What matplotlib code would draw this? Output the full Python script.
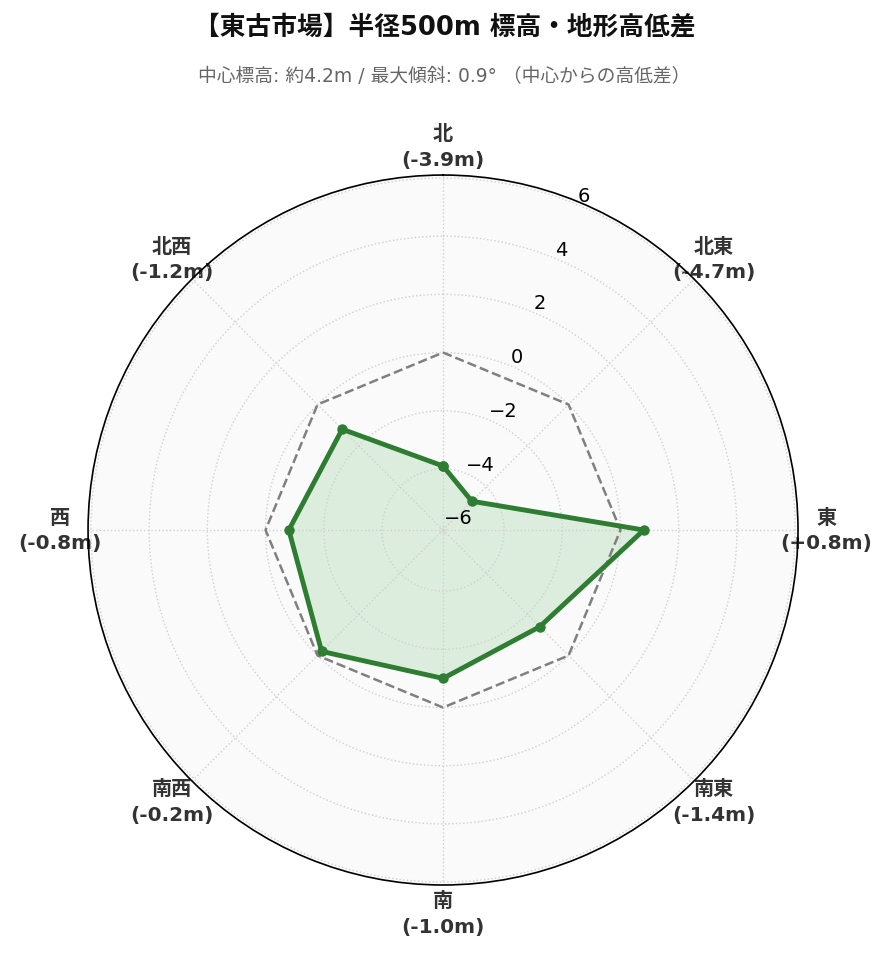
import numpy as np
import matplotlib
matplotlib.use("Agg")
import matplotlib.pyplot as plt

plt.rcParams['font.family'] = ['DejaVu Sans', 'Noto Sans CJK JP']

directions = ["北", "北東", "東", "南東", "南", "南西", "西", "北西"]
diffs = [-3.9, -4.7, 0.8, -1.4, -1.0, -0.2, -0.8, -1.2]
rticks = [-6, -4, -2, 0, 2, 4, 6]

title = "【東古市場】半径500m 標高・地形高低差"
subtitle = "中心標高: 約4.2m / 最大傾斜: 0.9° （中心からの高低差）"

n = len(directions)
angles = np.linspace(0, 2 * np.pi, n, endpoint=False)
ang_c = np.concatenate([angles, angles[:1]])
vals_c = np.concatenate([diffs, diffs[:1]])

fig = plt.figure(figsize=(8.89, 9.62), dpi=100)
ax = fig.add_axes([0.099, 0.079, 0.7987, 0.738], projection='polar')
ax.set_theta_zero_location('N')
ax.set_theta_direction(-1)
ax.set_facecolor('#fafafa')

ax.set_ylim(-6.1, 6.1)
ax.set_yticks(rticks)
ax.set_yticklabels([f"{t}".replace('-', '−') for t in rticks], fontsize=14)
ax.set_rlabel_position(22.5)

ax.plot(ang_c, np.zeros_like(ang_c), color='gray', linestyle='--', linewidth=1.8)
ax.fill(ang_c, vals_c, color='#4caf50', alpha=0.17)
ax.plot(ang_c, vals_c, color='#2e7d32', linewidth=3.5, marker='o', markersize=6.5)

labels = [f"{d}\n({v:+.1f}m)" if v > 0 else f"{d}\n({v:.1f}m)" for d, v in zip(directions, diffs)]
ax.set_xticks(angles)
ax.set_xticklabels(labels, fontsize=14.5, fontweight='bold', color='#333333', linespacing=1.45)
ax.tick_params(axis='x', pad=10)

ax.grid(True, color='#d0d0d0', linestyle=':', linewidth=1)
ax.spines['polar'].set_color('black')
ax.spines['polar'].set_linewidth(1.2)

fig.text(0.5, 0.971, title, ha='center', va='center', fontsize=18.5, fontweight='bold', color='#111111')
fig.text(0.5, 0.92, subtitle, ha='center', va='center', fontsize=13.5, color='#666666')

fig.savefig('out.png', dpi=100)
